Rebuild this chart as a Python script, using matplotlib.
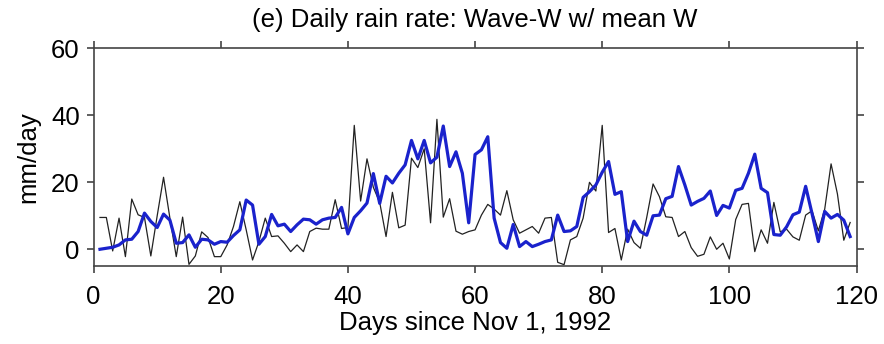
import numpy as np
import matplotlib
matplotlib.use("Agg")
import matplotlib.pyplot as plt

# daily rain rate (mm/day), days 1..119 since Nov 1, 1992
days = np.arange(1, 120)

rain_obs = [
    9.5, 9.5, -0.5, 9.3, -2.2, 15.0, 10.3, 9.5, -2.0, 10.0,
    21.5, 9.3, -2.2, 9.6, -4.5, -2.0, 5.2, 3.5, -2.2, -2.2,
    1.3, 6.8, 14.2, 5.8, -3.2, 2.3, 9.3, 3.8, 4.0, 1.8,
    -0.7, 1.3, -0.7, 5.3, 6.3, 6.0, 6.0, 14.8, 6.2, 6.5,
    37.0, 14.4, 27.0, 18.5, 14.0, 3.8, 17.0, 6.4, 7.2, 27.2,
    24.4, 30.0, 7.9, 38.8, 9.6, 15.1, 5.4, 4.5, 5.3, 5.8,
    10.2, 13.4, 12.0, 10.2, 17.5, 8.8, 4.8, 5.8, 6.8, 4.8,
    9.3, 9.5, -3.9, -4.6, 2.8, 3.8, 9.3, 20.0, 17.4, 37.0,
    5.0, 6.2, -3.2, 6.0, 2.0, 0.3, 9.5, 19.5, 15.7, 9.7,
    9.5, 3.8, 5.3, 0.5, -2.1, -1.5, 3.7, 0.0, 1.8, -2.9,
    8.9, 13.4, 13.7, -0.7, 5.8, 1.8, 14.0, 5.2, 6.0, 3.7,
    2.7, 10.2, 11.5, 5.5, 12.0, 25.5, 16.5, 2.7, 8.0,
]

rain_wave_w = [
    0.0, 0.3, 0.6, 1.3, 2.8, 3.0, 5.3, 10.8, 8.3, 6.5,
    10.5, 8.7, 1.8, 2.0, 4.3, 0.6, 3.0, 2.8, 1.5, 2.3,
    2.1, 4.1, 5.8, 14.7, 13.2, 1.5, 3.8, 10.4, 7.0, 7.5,
    5.3, 7.3, 9.0, 8.8, 7.5, 8.8, 9.3, 9.5, 12.5, 4.6,
    9.5, 11.5, 13.8, 22.6, 13.7, 21.8, 19.8, 22.7, 25.2, 32.5,
    27.0, 32.5, 25.8, 27.5, 36.8, 24.7, 29.1, 22.7, 7.9, 28.3,
    29.7, 33.6, 9.3, 2.0, 0.3, 7.4, 0.8, 2.3, 0.8, 1.5,
    2.3, 2.8, 10.2, 5.3, 5.5, 6.8, 15.5, 17.2, 19.2, 23.0,
    26.2, 16.4, 17.2, 2.3, 8.4, 5.3, 4.2, 10.0, 10.2, 15.1,
    15.8, 24.7, 19.2, 13.2, 14.3, 15.2, 17.4, 10.1, 13.1, 12.3,
    17.6, 18.2, 22.7, 28.4, 18.2, 16.9, 4.4, 4.2, 6.7, 10.3,
    11.1, 18.8, 10.7, 2.3, 11.3, 9.3, 10.4, 8.7, 3.8,
]

plt.rcParams.update({
    "font.family": ["Liberation Sans", "DejaVu Sans"],
    "font.size": 18.5,
})

fig = plt.figure(figsize=(8.84, 3.44), dpi=100)
ax = fig.add_axes([0.1059, 0.2267, 0.863, 0.6328])

ax.plot(days, rain_obs, color="#222222", lw=0.9)
ax.plot(days, rain_wave_w, color="#1a22cc", lw=2.3)

ax.set_xlim(0, 120)
ax.set_ylim(-5, 60)
ax.set_xticks(np.arange(0, 121, 20))
ax.set_yticks(np.arange(0, 61, 20))

for s in ax.spines.values():
    s.set_color("#444444")
    s.set_linewidth(1.2)
ax.tick_params(direction="out", length=5, width=1.2, color="#444444",
               top=True, right=True)
ax.tick_params(axis="x", pad=9)
ax.tick_params(axis="y", pad=5)

ax.set_xlabel("Days since Nov 1, 1992", labelpad=1)
ax.set_ylabel("mm/day", labelpad=8)
ax.set_title("(e) Daily rain rate: Wave-W w/ mean W", fontsize=18.5, pad=15)

fig.savefig("out.png", dpi=100)
